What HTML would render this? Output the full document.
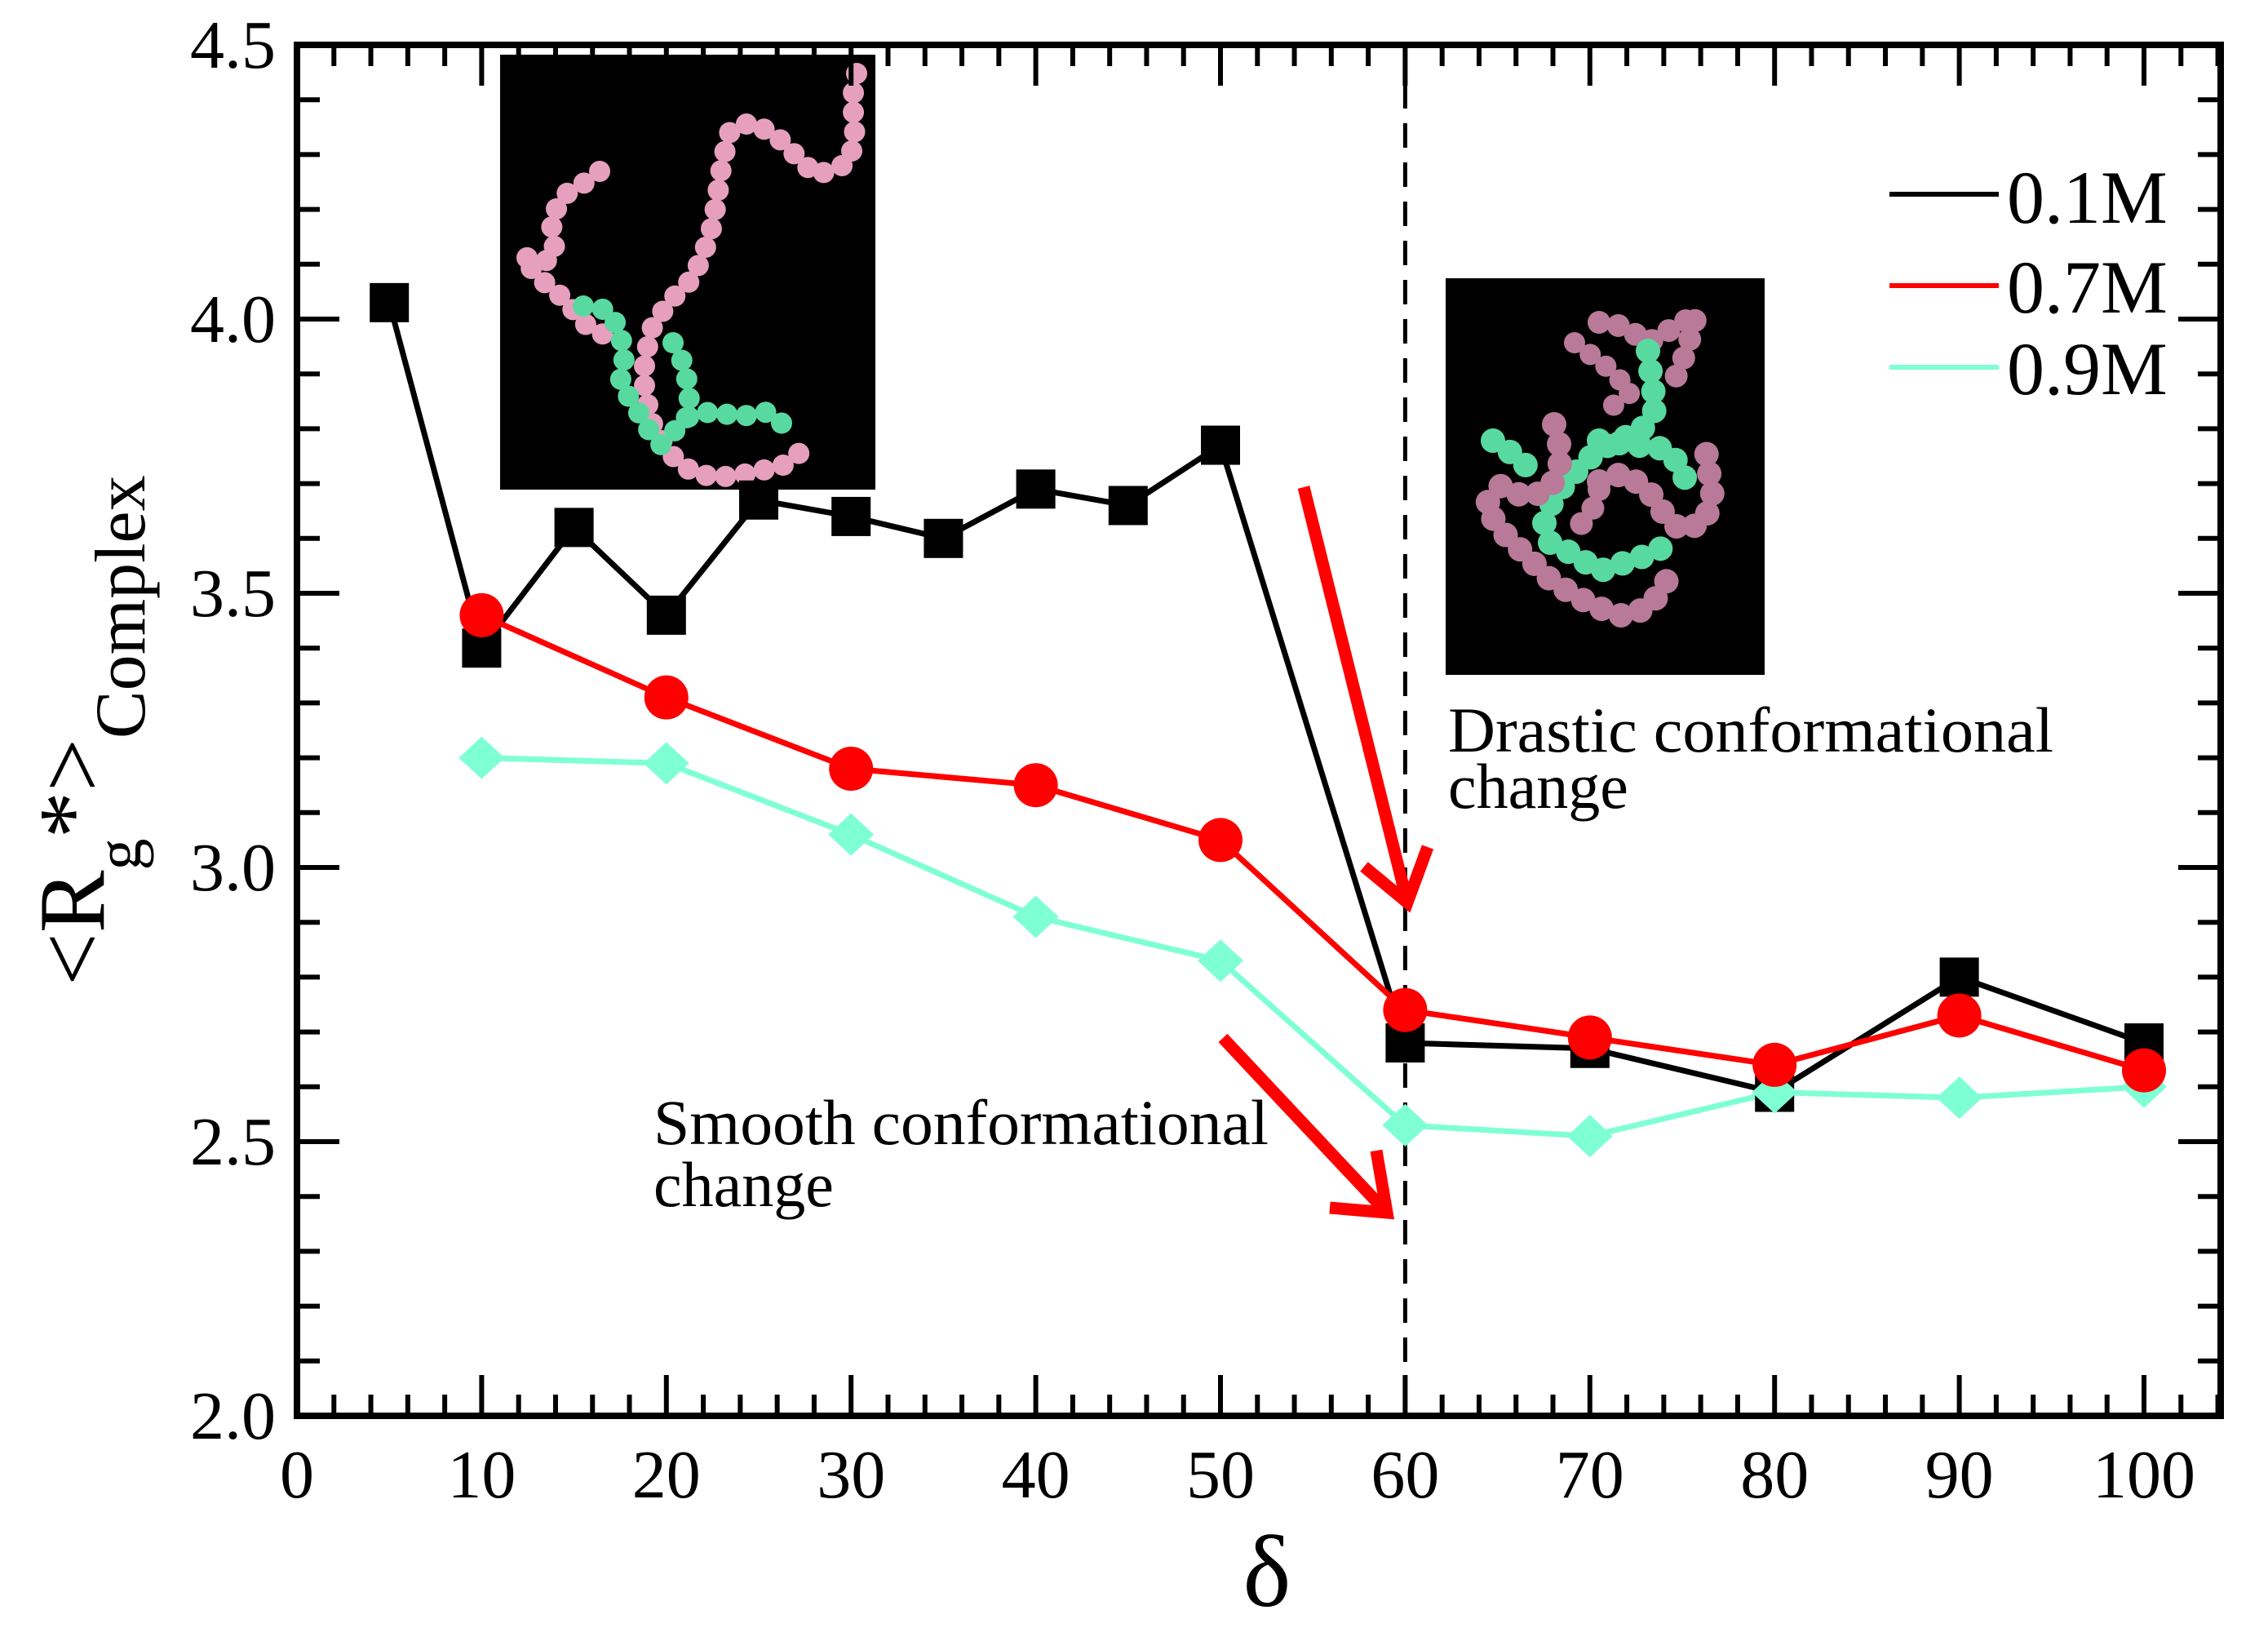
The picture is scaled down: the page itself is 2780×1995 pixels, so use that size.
<!DOCTYPE html>
<html><head><meta charset="utf-8"><style>
html,body{margin:0;padding:0;background:#fff;}
svg{display:block;font-family:"Liberation Serif",serif;}
</style></head><body>
<svg id="chart" width="2780" height="1995" viewBox="0 0 2780 1995" xmlns="http://www.w3.org/2000/svg">
<rect x="0" y="0" width="2780" height="1995" fill="#fff"/>
<g id="insets">
  <g>
    <rect x="613" y="67" width="460" height="533" fill="#000"/>
    <polyline points="1050,90 1045,120 1048,170 1040,200 1000,215 975,190 950,165 920,150 895,160 885,200 878,250 870,290 850,340 820,370 800,400 790,440 790,480 800,520 820,555 850,580 880,585 920,580 960,570 980,555" fill="none" stroke="#e6a0bd" stroke-width="26" stroke-linecap="round" stroke-dasharray="0 24"/>
    <polyline points="735,210 715,225 690,240 675,270 680,300 675,320 640,315 660,340 690,365 720,400 740,410" fill="none" stroke="#e6a0bd" stroke-width="26" stroke-linecap="round" stroke-dasharray="0 24"/>
    <polyline points="715,375 745,380 760,405 765,440 760,470 780,500 790,520 810,545 830,525 845,510 870,505 910,510 940,505 960,520" fill="none" stroke="#58d9a0" stroke-width="26" stroke-linecap="round" stroke-dasharray="0 24"/>
    <polyline points="825,420 840,450 845,490 840,520" fill="none" stroke="#58d9a0" stroke-width="26" stroke-linecap="round" stroke-dasharray="0 24"/>
  </g>
  <g>
    <rect x="1772" y="341" width="391" height="486" fill="#000"/>
    <polyline points="1960,395 1990,400 2020,420 2080,385 2070,420 2060,450 2050,470" fill="none" stroke="#b87a98" stroke-width="28" stroke-linecap="round" stroke-dasharray="0 24"/>
    <polyline points="1930,420 1970,450 2000,480 1960,510" fill="none" stroke="#b87a98" stroke-width="26" stroke-linecap="round" stroke-dasharray="0 24"/>
    <polyline points="2020,430 2025,470 2030,500 2010,530 1980,540 1950,560 1920,590 1900,620 1890,650" fill="none" stroke="#58d9a0" stroke-width="30" stroke-linecap="round" stroke-dasharray="0 25"/>
    <polyline points="1830,540 1860,560 1880,580" fill="none" stroke="#58d9a0" stroke-width="30" stroke-linecap="round" stroke-dasharray="0 25"/>
    <polyline points="1960,540 2000,545 2040,550 2060,570 2070,600" fill="none" stroke="#58d9a0" stroke-width="30" stroke-linecap="round" stroke-dasharray="0 25"/>
    <polyline points="1900,665 1930,680 1960,700 1990,690 2020,680 2040,670" fill="none" stroke="#58d9a0" stroke-width="30" stroke-linecap="round" stroke-dasharray="0 25"/>
    <polyline points="1905,520 1915,560 1900,600 1870,610 1840,595 1820,620 1840,650 1870,680 1900,710 1930,730 1960,745 1990,755 2020,745 2040,720 2050,690" fill="none" stroke="#b87a98" stroke-width="30" stroke-linecap="round" stroke-dasharray="0 25"/>
    <polyline points="1960,590 1990,580 2020,600 2040,630 2060,650 2090,640 2100,600 2090,560 2100,540" fill="none" stroke="#b87a98" stroke-width="30" stroke-linecap="round" stroke-dasharray="0 25"/>
    <polyline points="1960,600 1950,630 1930,650" fill="none" stroke="#b87a98" stroke-width="28" stroke-linecap="round" stroke-dasharray="0 24"/>
  </g>
</g>
<g id="frame"></g>
<g id="series"></g>
<g id="annot">
  <text x="1775" y="921" font-size="78" textLength="742" lengthAdjust="spacingAndGlyphs">Drastic conformational</text>
  <text x="1775" y="990" font-size="78">change</text>
  <text x="801" y="1402" font-size="78" textLength="754" lengthAdjust="spacingAndGlyphs">Smooth conformational</text>
  <text x="801" y="1478" font-size="78">change</text>
  <g stroke="#ff0000" stroke-width="15" fill="none" stroke-linecap="butt">
    <line x1="1598" y1="597" x2="1725" y2="1106"/>
    <polyline points="1672,1062 1725,1106 1750,1038"/>
  </g>
  <g stroke="#ff0000" stroke-width="15" fill="none" stroke-linecap="butt">
    <line x1="1499" y1="1272" x2="1700" y2="1486"/>
    <polyline points="1630,1480 1700,1486 1687,1410"/>
  </g>
</g>
<g id="legend">
  <g>
    <line x1="2316" y1="238" x2="2450" y2="238" stroke="#000" stroke-width="6"/>
    <text x="2460" y="273" font-size="92">0.1M</text>
  </g>
  <g>
    <line x1="2316" y1="350" x2="2450" y2="350" stroke="#ff0000" stroke-width="6"/>
    <text x="2460" y="383" font-size="92">0.7M</text>
  </g>
  <g>
    <line x1="2316" y1="450" x2="2450" y2="450" stroke="#7fffd4" stroke-width="6"/>
    <text x="2460" y="483" font-size="92">0.9M</text>
  </g>
</g>
<text x="1553" y="1968" font-size="125" text-anchor="middle">δ</text>
<text transform="translate(127,1208) rotate(-90)" font-size="115">&lt;R<tspan font-size="78" dy="45">g</tspan><tspan font-size="115" dy="-45">*&gt;</tspan><tspan font-size="88" dy="50">Complex</tspan></text>
</svg>
<script>
// ---- data ----
const x01 = [5,10,15,20,25,30,35,40,45,50,60,70,80,90,100];
const y01 = [4.03,3.40,3.62,3.46,3.67,3.64,3.60,3.69,3.66,3.77,2.68,2.67,2.59,2.80,2.68];
const x07 = [10,20,30,40,50,60,70,80,90,100];
const y07 = [3.46,3.31,3.18,3.15,3.05,2.74,2.69,2.64,2.73,2.63];
const x09 = [10,20,30,40,50,60,70,80,90,100];
const y09 = [3.20,3.19,3.06,2.91,2.83,2.53,2.51,2.59,2.58,2.60];
const xTickLabels = ["0","10","20","30","40","50","60","70","80","90","100"];
const yTickLabels = ["2.0","2.5","3.0","3.5","4.0","4.5"];
const dividerX = [60];

const NS = "http://www.w3.org/2000/svg";
const L = 364, R = 2722, T = 55, B = 1735;
const XMIN = 0, XPX = 22.64;
const YMIN = 2.0, YMAX = 4.5;
function sx(v){ return L + (v - XMIN) * XPX; }
function sy(v){ return B - (v - YMIN) / (YMAX - YMIN) * (B - T); }
function mk(tag, attrs, parent){
  const e = document.createElementNS(NS, tag);
  for (const k in attrs) e.setAttribute(k, attrs[k]);
  parent.appendChild(e);
  return e;
}
const frame = document.getElementById('frame');
const series = document.getElementById('series');

dividerX.forEach(v => {
  const d = mk('line', {x1:sx(v), x2:sx(v), y1:T, y2:B, stroke:'#000', 'stroke-width':5, 'stroke-dasharray':'30 18'}, frame);
  
  
});

const xmaxVal = (R - L) / XPX;
for (let v = 0; v <= xmaxVal + 0.01; v += 2) {
  const major = Math.abs(v % 10) < 1e-6;
  const len = major ? 50 : 26;
  const t1 = mk('line', {x1:sx(v), x2:sx(v), y1:B, y2:B-len, stroke:'#000', 'stroke-width':6}, frame);
  
  
  const t2 = mk('line', {x1:sx(v), x2:sx(v), y1:T, y2:T+len, stroke:'#000', 'stroke-width':6}, frame);
  
  
}
for (let i = 0; i <= 25; i++) {
  const v = YMIN + i * 0.1;
  const major = i % 5 === 0;
  const len = major ? 52 : 28;
  const t1 = mk('line', {x1:L, x2:L+len, y1:sy(v), y2:sy(v), stroke:'#000', 'stroke-width':6}, frame);
  
  
  const t2 = mk('line', {x1:R, x2:R-len, y1:sy(v), y2:sy(v), stroke:'#000', 'stroke-width':6}, frame);
  
  
}
const box = mk('rect', {x:L, y:T, width:R-L, height:B-T, fill:'none', stroke:'#000', 'stroke-width':8}, frame);



xTickLabels.forEach(s => {
  const t = mk('text', {x:sx(parseFloat(s)), y:1835, 'font-size':84, 'text-anchor':'middle'}, frame);
  t.textContent = s;
  
  
});
yTickLabels.forEach(s => {
  const t = mk('text', {x:338, y:sy(parseFloat(s)) + 28, 'font-size':84, 'text-anchor':'end'}, frame);
  t.textContent = s;
  
  
});

function drawLine(xs, ys, color, name){
  const pts = xs.map((x, i) => sx(x) + ',' + sy(ys[i])).join(' ');
  const p = mk('polyline', {points:pts, fill:'none', stroke:color, 'stroke-width':7, 'stroke-linejoin':'miter'}, series);
  
  
}
drawLine(x09, y09, '#7fffd4', 'line-0.9M');
drawLine(x01, y01, '#000000', 'line-0.1M');
drawLine(x07, y07, '#ff0000', 'line-0.7M');

x01.forEach((x, i) => {
  const m = mk('rect', {x:sx(x)-24, y:sy(y01[i])-24, width:48, height:48, fill:'#000'}, series);
  
  
});
x09.forEach((x, i) => {
  const cx = sx(x), cy = sy(y09[i]);
  const m = mk('polygon', {points:`${cx-28},${cy} ${cx},${cy-26} ${cx+28},${cy} ${cx},${cy+26}`, fill:'#7fffd4'}, series);
  
  
});
x07.forEach((x, i) => {
  const m = mk('circle', {cx:sx(x), cy:sy(y07[i]), r:27, fill:'#ff0000'}, series);
  
  
});
</script>
</body></html>
